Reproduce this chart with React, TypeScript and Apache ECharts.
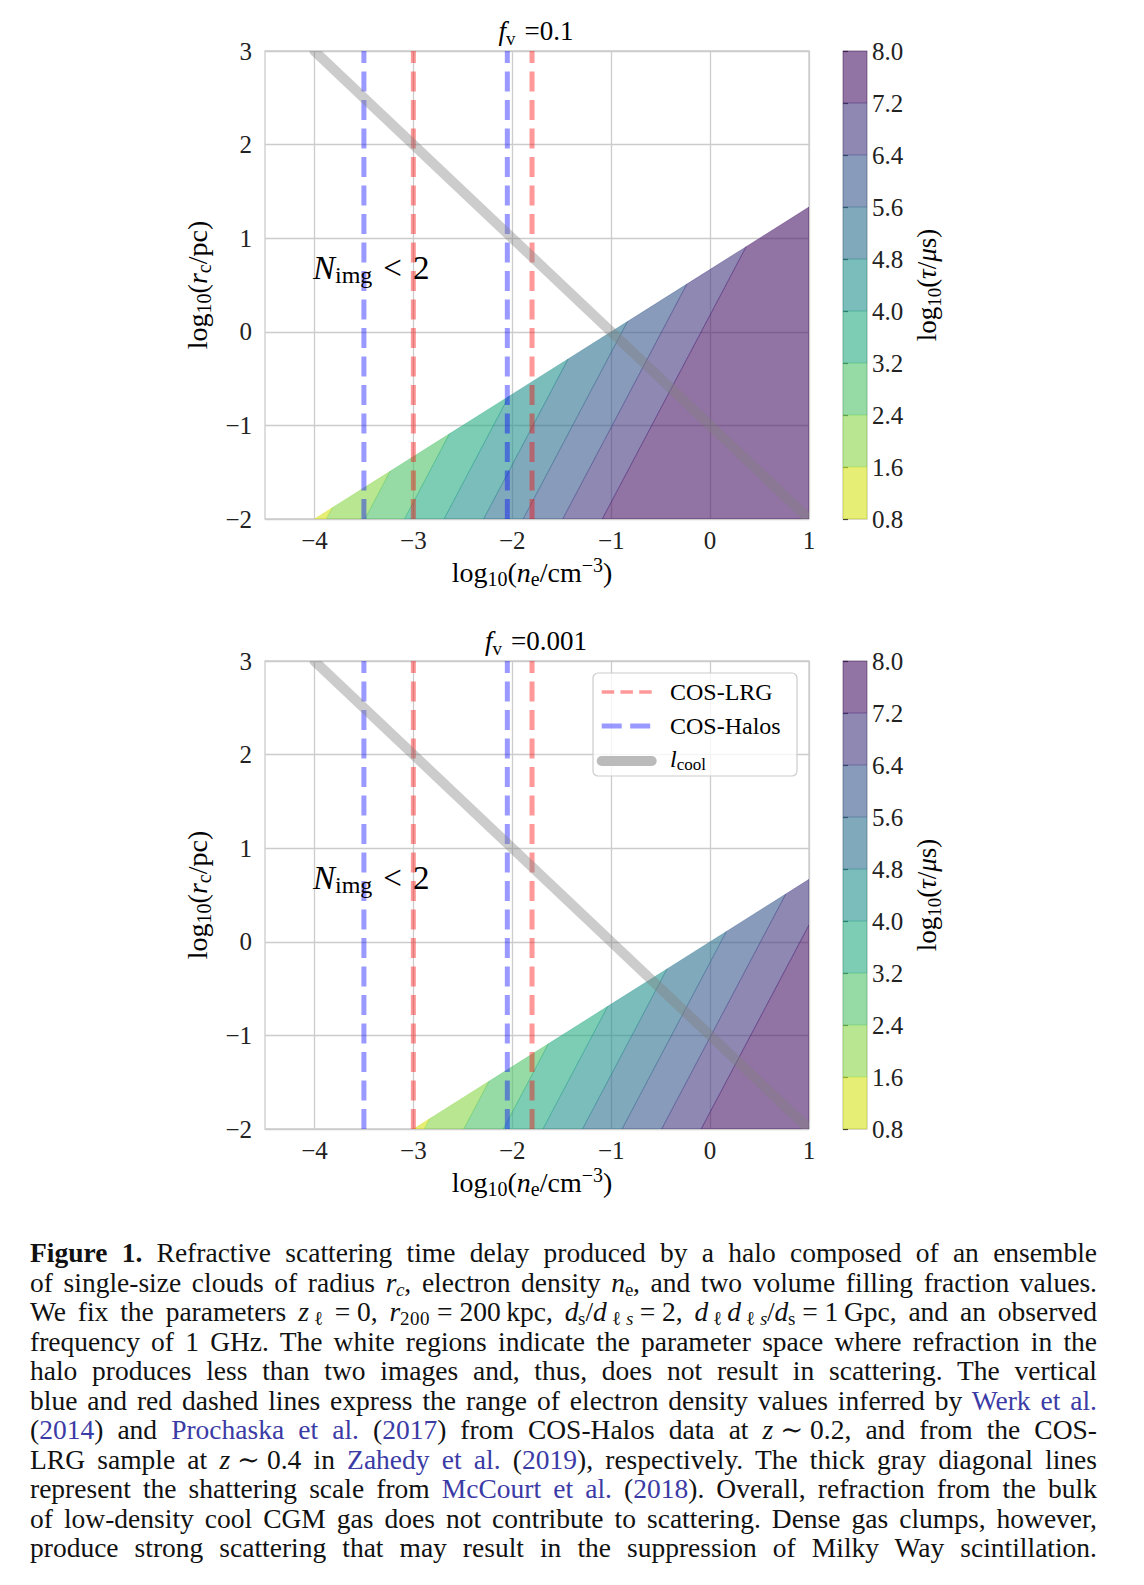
import React, { useEffect, useRef } from "react";
import * as echarts from "echarts";

const SERIF = "'Liberation Serif', 'DejaVu Serif', serif";
const INK = "#222222";
const CITE = "#3b3ba6";

// ---------------- data ----------------
const xTickValues = [-4, -3, -2, -1, 0, 1];
const xLimits = [-4.5, 1];
const yLimits = [-2, 3];
const colorLevels = [0.8, 1.6, 2.4, 3.2, 4.0, 4.8, 5.6, 6.4, 7.2, 8.0];
const bandColors = [
  "rgba(213,226,26,0.6)",
  "rgba(137,213,72,0.6)",
  "rgba(80,195,105,0.6)",
  "rgba(37,171,130,0.6)",
  "rgba(33,145,140,0.6)",
  "rgba(43,114,142,0.6)",
  "rgba(56,89,140,0.6)",
  "rgba(67,57,129,0.6)",
  "rgba(71,21,103,0.6)",
];
const fvLabels = ["0.1", "0.001"];
// log10(ne) where each contour line (levels 1.6 ... 7.2) meets log10(rc) = -2
const contourCrossingsTop = [-3.88, -3.49, -3.09, -2.69, -2.29, -1.89, -1.49, -1.09];
const contourCrossingsBottom = [-2.89, -2.49, -2.09, -1.69, -1.29, -0.89, -0.49, -0.09];
const contourCrossings = [contourCrossingsTop, contourCrossingsBottom];
const contourSlope = 2; // d log rc / d log ne along a contour
// N_img = 2 boundary (end points)
const imageEdgeTop = [[-4, -2], [1, 1.333]];
const imageEdgeBottom = [[-3, -2], [1, 0.667]];
const imageEdges = [imageEdgeTop, imageEdgeBottom];
const cosHalosNe = [-3.5, -2.05];
const cosLrgNe = [-3.0, -1.8];
const coolingLine = [-4, 3, 1, -2];

// ---------------- layout ----------------
const PANEL_TOP = [51, 661];
const PLOT_LEFT = 265;
const PLOT_W = 544;
const PLOT_H = 468;
const CB_LEFT = 843;
const CB_W = 24;

type P = [number, number];

function clipHalf(poly: P[], f: (p: P) => number): P[] {
  const out: P[] = [];
  for (let i = 0; i < poly.length; i++) {
    const a = poly[i];
    const b = poly[(i + 1) % poly.length];
    const fa = f(a);
    const fb = f(b);
    if (fa >= 0) out.push(a);
    if ((fa >= 0) !== (fb >= 0)) {
      const t = fa / (fa - fb);
      out.push([a[0] + t * (b[0] - a[0]), a[1] + t * (b[1] - a[1])]);
    }
  }
  return out;
}

function bandPolygon(panel: number, k: number): P[] {
  const edge = imageEdges[panel];
  let poly: P[] = [
    [edge[0][0], yLimits[0]],
    [xLimits[1], yLimits[0]],
    [edge[1][0], edge[1][1]],
  ];
  const cx = contourCrossings[panel];
  const sOf = (p: P) => contourSlope * p[0] - p[1];
  const sLine = (x: number) => contourSlope * x - yLimits[0];
  if (k >= 1) {
    const s0 = sLine(cx[k - 1]);
    poly = clipHalf(poly, (p) => sOf(p) - s0);
  }
  if (k <= cx.length - 1) {
    const s1 = sLine(cx[k]);
    poly = clipHalf(poly, (p) => s1 - sOf(p));
  }
  return poly;
}

const minus = (v: number) => (v < 0 ? "\u2212" + Math.abs(v) : String(v));

function mathRich(base: number, sub: number) {
  const H = base + 6;
  return {
    n: { fontFamily: SERIF, fontSize: base, lineHeight: H, color: INK },
    it: { fontFamily: SERIF, fontStyle: "italic", fontSize: base, lineHeight: H, color: INK },
    sb: { fontFamily: SERIF, fontSize: sub, lineHeight: H - 16, verticalAlign: "bottom", color: INK },
    sbi: { fontFamily: SERIF, fontStyle: "italic", fontSize: sub, lineHeight: H - 16, verticalAlign: "bottom", color: INK },
    sp: { fontFamily: SERIF, fontSize: sub, lineHeight: H - 14, verticalAlign: "top", color: INK },
  };
}

function gText(x: number, y: number, text: string, rich: any, align = "center", rotation = 0) {
  return {
    type: "text",
    x,
    y,
    rotation,
    z: 100,
    silent: true,
    style: { text, rich, align, verticalAlign: "middle", textAlign: align, textVerticalAlign: "middle" },
  };
}

function buildOption() {
  const grids: any[] = [];
  const xAxes: any[] = [];
  const yAxes: any[] = [];
  const series: any[] = [];
  const graphic: any[] = [];
  const tickFont = { fontFamily: SERIF, fontSize: 25, color: INK };
  const gridLine = { show: true, lineStyle: { color: "#cccccc", width: 1.3 } };

  for (let p = 0; p < 2; p++) {
    grids.push({
      left: PLOT_LEFT, top: PANEL_TOP[p], width: PLOT_W, height: PLOT_H,
      show: true, borderColor: "#cccccc", borderWidth: 1.3, backgroundColor: "transparent",
    });
    xAxes.push({
      type: "value", gridIndex: p, min: xLimits[0], max: xLimits[1],
      axisLine: { show: false },
      axisTick: { show: false, customValues: xTickValues },
      axisLabel: { ...tickFont, margin: 9, customValues: xTickValues, formatter: (v: number) => minus(v) },
      splitLine: gridLine,
    });
    yAxes.push({
      type: "value", gridIndex: p, min: yLimits[0], max: yLimits[1], interval: 1,
      axisLine: { show: false }, axisTick: { show: false },
      axisLabel: { ...tickFont, margin: 13, formatter: (v: number) => minus(v) },
      splitLine: gridLine,
    });
  }
  for (let p = 0; p < 2; p++) {
    grids.push({
      left: CB_LEFT, top: PANEL_TOP[p], width: CB_W, height: PLOT_H,
      show: true, borderColor: "#cccccc", borderWidth: 1.3, backgroundColor: "transparent",
    });
    xAxes.push({ type: "value", gridIndex: 2 + p, min: 0, max: 1, show: false });
    yAxes.push({
      type: "value", gridIndex: 2 + p, min: colorLevels[0], max: colorLevels[colorLevels.length - 1],
      interval: 0.8, position: "right",
      axisLine: { show: false },
      axisTick: { show: true, length: 5, lineStyle: { color: "#333333", width: 1.2 } },
      axisLabel: { ...tickFont, margin: 5, formatter: (v: number) => v.toFixed(1) },
      splitLine: { show: false },
    });
  }

  for (let p = 0; p < 2; p++) {
    series.push({
      type: "custom", name: "tau" + p, xAxisIndex: p, yAxisIndex: p, clip: true, silent: true, z: 2,
      data: bandColors.map((_, k) => [k, 0]),
      renderItem: (params: any, api: any) => {
        const k = params.dataIndex;
        const poly = bandPolygon(p, k);
        if (poly.length < 3) return null;
        return {
          type: "polygon",
          shape: { points: poly.map((pt) => api.coord(pt)) },
          style: { fill: bandColors[k], stroke: bandColors[k], lineWidth: 0.6 },
        };
      },
    });
    const vlines = [
      ...cosHalosNe.map((x) => ({ x, color: "rgba(0,0,255,0.4)" })),
      ...cosLrgNe.map((x) => ({ x, color: "rgba(255,0,0,0.4)" })),
    ];
    vlines.forEach((d) => {
      series.push({
        type: "line", xAxisIndex: p, yAxisIndex: p, silent: true, z: 3, symbol: "none", showSymbol: false,
        data: [[d.x, yLimits[0]], [d.x, yLimits[1]]],
        lineStyle: { color: d.color, width: 5, type: [20, 8.5] },
      });
    });
    series.push({
      type: "custom", xAxisIndex: p, yAxisIndex: p, clip: true, silent: true, z: 4,
      dimensions: ["x0", "y0", "x1", "y1"], encode: { x: [0, 2], y: [1, 3] },
      data: [coolingLine],
      renderItem: (params: any, api: any) => {
        const a = api.coord([api.value(0), api.value(1)]);
        const b = api.coord([api.value(2), api.value(3)]);
        return {
          type: "line",
          shape: { x1: a[0], y1: a[1], x2: b[0], y2: b[1] },
          style: { stroke: "rgba(128,128,128,0.4)", lineWidth: 10, lineCap: "round" },
        };
      },
    });
    series.push({
      type: "custom", xAxisIndex: 2 + p, yAxisIndex: 2 + p, silent: true, z: 2,
      dimensions: ["x0", "y0", "x1", "y1"], encode: { x: [0, 2], y: [1, 3] },
      data: bandColors.map((_, k) => [0, colorLevels[k], 1, colorLevels[k + 1]]),
      renderItem: (params: any, api: any) => {
        const a = api.coord([api.value(0), api.value(3)]);
        const b = api.coord([api.value(2), api.value(1)]);
        return {
          type: "rect",
          shape: { x: a[0], y: a[1], width: b[0] - a[0], height: b[1] - a[1] },
          style: { fill: bandColors[params.dataIndex], stroke: bandColors[params.dataIndex], lineWidth: 0.4 },
        };
      },
    });

    const T = PANEL_TOP[p];
    const r27 = mathRich(27, 19);
    graphic.push(gText(536, T - 20, "{it|f}{sb|v}{n|\u2004=" + fvLabels[p] + "}", r27));
    graphic.push(gText(532, T + 521, "{n|log}{sb|10}{n|(}{it|n}{sb|e}{n|/cm}{sp|\u22123}{n|)}", mathRich(28, 20)));
    graphic.push(gText(197, T + 234, "{n|log}{sb|10}{n|(}{it|r}{sb|c}{n|/pc)}", mathRich(28, 20), "center", Math.PI / 2));
    graphic.push(gText(927, T + 234, "{n|log}{sb|10}{n|(}{it|\u03c4}{n|/}{it|\u03bc}{n|s)}", mathRich(27, 19), "center", Math.PI / 2));
    const rN = {
      N: { fontFamily: SERIF, fontStyle: "italic", fontSize: 33, lineHeight: 37, color: INK },
      s: { fontFamily: SERIF, fontSize: 24, lineHeight: 16, verticalAlign: "bottom", color: INK },
      t: { fontFamily: SERIF, fontSize: 33, lineHeight: 37, color: INK },
    };
    graphic.push(gText(313, T + 217, "{N|N}{s|img}{t|\u2004<\u20042}", rN, "left"));
  }

  // legend (bottom panel)
  const LT = PANEL_TOP[1];
  graphic.push({
    type: "rect", z: 90, silent: true,
    shape: { x: 593, y: LT + 12, width: 204, height: 103, r: 5 },
    style: { fill: "rgba(255,255,255,0.8)", stroke: "#cccccc", lineWidth: 1.2 },
  });
  graphic.push({
    type: "line", z: 95, silent: true,
    shape: { x1: 601.7, y1: LT + 31, x2: 651.7, y2: LT + 31 },
    style: { stroke: "rgba(255,0,0,0.4)", lineWidth: 3.3, lineDash: [12.5, 6.25] },
  });
  graphic.push({
    type: "line", z: 95, silent: true,
    shape: { x1: 601.7, y1: LT + 65, x2: 651.7, y2: LT + 65 },
    style: { stroke: "rgba(0,0,255,0.4)", lineWidth: 5, lineDash: [20, 8.5] },
  });
  graphic.push({
    type: "line", z: 95, silent: true,
    shape: { x1: 601.7, y1: LT + 100, x2: 651.7, y2: LT + 100 },
    style: { stroke: "#bbbbbb", lineWidth: 10, lineCap: "round" },
  });
  const rL = {
    n: { fontFamily: SERIF, fontSize: 24, lineHeight: 28, color: INK },
    it: { fontFamily: SERIF, fontStyle: "italic", fontSize: 24, lineHeight: 28, color: INK },
    sb: { fontFamily: SERIF, fontSize: 17, lineHeight: 14, verticalAlign: "bottom", color: INK },
  };
  graphic.push(gText(670, LT + 31, "{n|COS-LRG}", rL, "left"));
  graphic.push(gText(670, LT + 65, "{n|COS-Halos}", rL, "left"));
  graphic.push(gText(670, LT + 98, "{it|l}{sb|cool}", rL, "left"));

  return {
    animation: false,
    backgroundColor: "#ffffff",
    textStyle: { fontFamily: SERIF },
    grid: grids,
    xAxis: xAxes,
    yAxis: yAxes,
    series,
    graphic,
  };
}

// subscript faces with a compact content area, so that subscripts do not spill into the next line
const fontCss = `
@font-face { font-family: 'CapSub'; src: local('Liberation Serif'), local('LiberationSerif'); font-style: normal; font-weight: 400; ascent-override: 80%; descent-override: 6%; line-gap-override: 0%; }
@font-face { font-family: 'CapSub'; src: local('Liberation Serif Italic'), local('LiberationSerif-Italic'); font-style: italic; font-weight: 400; ascent-override: 80%; descent-override: 6%; line-gap-override: 0%; }
@font-face { font-family: 'CapEll'; src: local('DejaVu Serif'), local('DejaVuSerif'); font-style: normal; font-weight: 400; ascent-override: 78%; descent-override: 4%; line-gap-override: 0%; }
`;
const SUBFONT = "'CapSub', 'CapEll', 'Liberation Serif', 'DejaVu Serif', serif";

const Sb = ({ children }: any) => (
  <sub style={{ fontFamily: SUBFONT, fontSize: "0.7em", verticalAlign: "-0.2em", lineHeight: 0 }}>{children}</sub>
);
const C = ({ children }: any) => <span style={{ color: CITE }}>{children}</span>;
const M = "\u2005"; // fixed math space

const captionLines: any[] = [
  <>
    <b>Figure 1.</b> Refractive scattering time delay produced by a halo composed of an ensemble
  </>,
  <>
    of single-size clouds of radius <i>r</i>
    <Sb>
      <i>c</i>
    </Sb>
    , electron density <i>n</i>
    <Sb>e</Sb>, and two volume filling fraction values.
  </>,
  <>
    We fix the parameters <i>z</i>
    <Sb>ℓ</Sb>
    {M + "=" + M}0, <i>r</i>
    <Sb>200</Sb>
    {M + "=" + M}200{"\u2009"}kpc, <i>d</i>
    <Sb>s</Sb>/<i>d</i>
    <Sb>
      ℓ<i>s</i>
    </Sb>
    {M + "=" + M}2, <i>d</i>
    <Sb>ℓ</Sb>
    <i>d</i>
    <Sb>
      ℓ<i>s</i>
    </Sb>
    /<i>d</i>
    <Sb>s</Sb>
    {M + "=" + M}1{"\u2009"}Gpc, and an observed
  </>,
  <>frequency of 1 GHz. The white regions indicate the parameter space where refraction in the</>,
  <>halo produces less than two images and, thus, does not result in scattering. The vertical</>,
  <>
    blue and red dashed lines express the range of electron density values inferred by <C>Werk et al.</C>
  </>,
  <>
    (<C>2014</C>) and <C>Prochaska et al.</C> (<C>2017</C>) from COS-Halos data at <i>z</i>
    {M + "∼" + M}0.2, and from the COS-
  </>,
  <>
    LRG sample at <i>z</i>
    {M + "∼" + M}0.4 in <C>Zahedy et al.</C> (<C>2019</C>), respectively. The thick gray diagonal lines
  </>,
  <>
    represent the shattering scale from <C>McCourt et al.</C> (<C>2018</C>). Overall, refraction from the bulk
  </>,
  <>of low-density cool CGM gas does not contribute to scattering. Dense gas clumps, however,</>,
  <>produce strong scattering that may result in the suppression of Milky Way scintillation.</>,
];

export default function App() {
  const ref = useRef<HTMLDivElement>(null);
  useEffect(() => {
    if (!ref.current) return;
    const chart = echarts.init(ref.current, null, { renderer: "svg" });
    chart.setOption(buildOption() as any);
    return () => chart.dispose();
  }, []);
  return (
    <div style={{ position: "absolute", left: 0, top: 0, width: 1144, height: 1585, background: "#ffffff" }}>
      <style>{fontCss}</style>
      <div ref={ref} style={{ position: "absolute", left: 0, top: 0, width: 1144, height: 1210 }} />
      <div
        style={{
          position: "absolute",
          left: 30,
          top: 1238,
          width: 1067,
          fontFamily: SERIF,
          fontSize: 27.5,
          color: "#111111",
        }}
      >
        {captionLines.map((line, i) => (
          <div
            key={i}
            style={{
              height: 29.5,
              lineHeight: "29.5px",
              textAlign: "justify",
              textAlignLast: "justify",
              whiteSpace: "nowrap",
            }}
          >
            {line}
          </div>
        ))}
      </div>
    </div>
  );
}
